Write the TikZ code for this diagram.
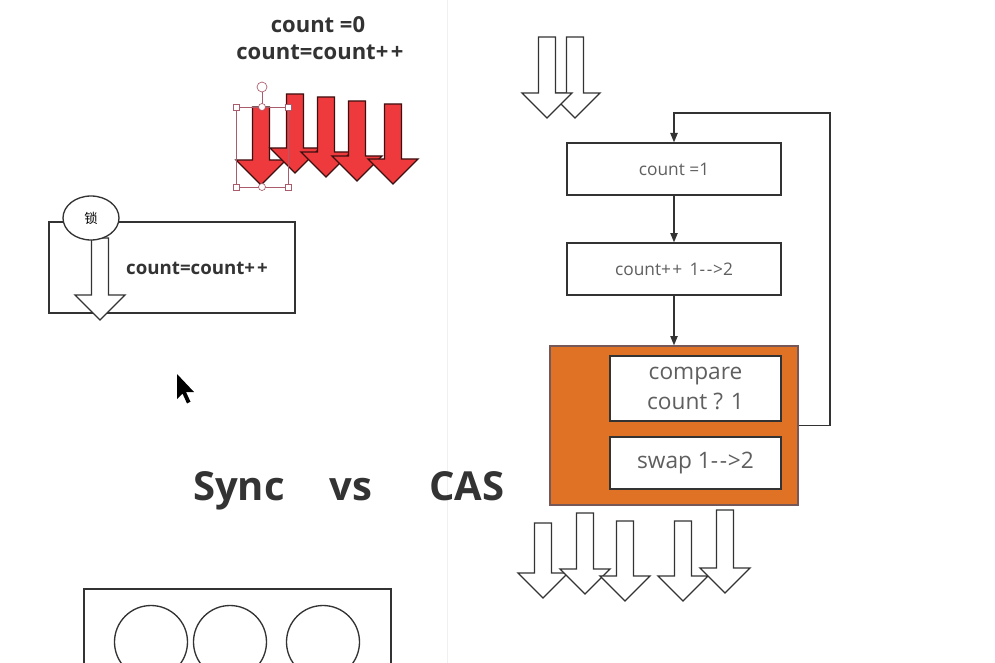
\documentclass[tikz,border=0pt]{standalone}
\usepackage{fontspec}
\setmainfont{Open Sans}
\newfontfamily\cjk{Noto Sans CJK SC}
\usetikzlibrary{arrows.meta,shapes.geometric}
\definecolor{casorange}{RGB}{224,114,38}
\definecolor{arrowred}{RGB}{238,58,60}
\definecolor{redline}{RGB}{60,16,16}
\definecolor{handlecol}{RGB}{170,92,108}
\definecolor{inkgray}{RGB}{51,51,51}
\definecolor{textgray}{RGB}{95,95,95}
\def\fatarrow[#1](#2:#3:#4){\draw[#1] (#2-8.5,#3) -- (#2+8.5,#3) -- (#2+8.5,#4-25) -- (#2+25,#4-25) -- (#2,#4) -- (#2-25,#4-25) -- (#2-8.5,#4-25) -- cycle;}
\def\dd{-\kern1.2pt-\kern0.6pt>}
\tikzset{
  hollow/.style={draw=inkgray, fill=white, line width=1pt},
  redarrow/.style={draw=redline, fill=arrowred, line width=1pt},
  flowbox/.style={draw=inkgray, fill=white, line width=1pt, minimum width=160.5pt, minimum height=39pt, text=textgray, font=\fontsize{13}{15}\selectfont},
  innerbox/.style={draw=inkgray, fill=white, line width=1pt, minimum width=128.25pt, text=textgray, align=center, font=\fontsize{17}{22}\selectfont},
  flow/.style={draw=inkgray, line width=1pt, -{Triangle[length=7pt,width=5.5pt]}},
  titletext/.style={text=inkgray, font=\fontsize{16.5}{19}\selectfont\bfseries},
  bigtext/.style={text=inkgray, anchor=base, font=\fontsize{30}{36}\selectfont\bfseries},
  handlebox/.style={draw=handlecol, fill=white, line width=0.5pt}
}

\begin{document}
\begin{tikzpicture}[x=0.75pt, y=-0.75pt]
			%%%%% START %%%%%
			\useasboundingbox (0,0) rectangle (995,663);
			\clip (0,0) rectangle (995,663);
			\fill[white] (0,0) rectangle (995,663);
			\draw[black!6, line width=0.6pt] (447,0) -- (447,663);
			
			% sync side
			\node[titletext] (initval) at (318,25) {count =0};
			\node[titletext] (postinc) at (320,52) {count=count+\kern2pt+};
			
			\fatarrow[redarrow](261:107:185)
			\fatarrow[redarrow](295:94:173)
			\fatarrow[redarrow](326:97:177)
			\fatarrow[redarrow](357:101:181)
			\fatarrow[redarrow](393:104:184)
			
			\draw[handlecol, line width=0.5pt] (236,107) rectangle (288,187);
			\draw[handlecol, line width=0.5pt] (262,92) -- (262,104);
			\draw[handlebox] (262,87) circle (5);
			\draw[handlebox] (233,104) rectangle (239,110);
			\draw[handlebox] (285,104) rectangle (291,110);
			\draw[handlebox] (233,184) rectangle (239,190);
			\draw[handlebox] (285,184) rectangle (291,190);
			\draw[handlebox] (262,107) circle (3.5);
			\draw[handlebox] (262,187) circle (3.5);
			
			\draw[inkgray, line width=1pt] (49,222) rectangle (295,313);
			\fatarrow[hollow](100:238:320)
			\node[draw=inkgray, fill=white, line width=1pt, ellipse, minimum width=42pt, minimum height=33pt, inner sep=0pt, font=\fontsize{10}{12}\selectfont] (lock) at (91,218) {\cjk 锁};
			\node[text=inkgray, font=\fontsize{14}{17}\selectfont\bfseries] (syncop) at (197,268) {count=count+\kern1.5pt+};
			
			\fill[black] (177,374) -- ++(0,25) -- ++(5.5,-5.5) -- ++(4.5,10) -- ++(3.5,-1.8) -- ++(-4.5,-9.7) -- ++(8,0) -- cycle;
			
			\node[bigtext] (sync) at (239,500) {Sync};
			\node[bigtext] (versus) at (351,500) {vs};
			\node[bigtext] (cas) at (467,500) {CAS};
			
			\draw[inkgray, line width=1pt] (84,589) rectangle (391,700);
			\draw[inkgray, line width=1pt] (151,642) circle (36.5);
			\draw[inkgray, line width=1pt] (230,642) circle (36.5);
			\draw[inkgray, line width=1pt] (323,642) circle (36.5);
			
			% cas side
			\fatarrow[hollow](575:37:118)
			\fatarrow[hollow](547:37:118)
			
			\node[flowbox] (readval) at (674,169) {count =1};
			\node[flowbox] (incval) at (674,269) {count+\kern1pt+ \,1\dd2};
			\node[draw=redline!70, fill=casorange, line width=1pt, minimum width=186pt, minimum height=119.25pt] (casblock) at (674,425.5) {};
			\node[innerbox, minimum height=48.75pt] (compare) at (695.5,388.5) {compare\\count ? 1};
			\node[innerbox, minimum height=39pt] (swap) at (695.5,463) {swap 1\dd2};
			\coordinate (loopcorner) at (830,113);
			
			\draw[flow] (readval) -- (incval);
			\draw[flow] (incval) -- (casblock);
			\draw[flow] (casblock.east) -| (loopcorner) -| (readval.north);
			
			\fatarrow[hollow](543:523:598)
			\fatarrow[hollow](585:513:594)
			\fatarrow[hollow](625:521:601)
			\fatarrow[hollow](683:521:601)
			\fatarrow[hollow](725:510:593)
			%%%%% END %%%%%
\end{tikzpicture}
\end{document}
